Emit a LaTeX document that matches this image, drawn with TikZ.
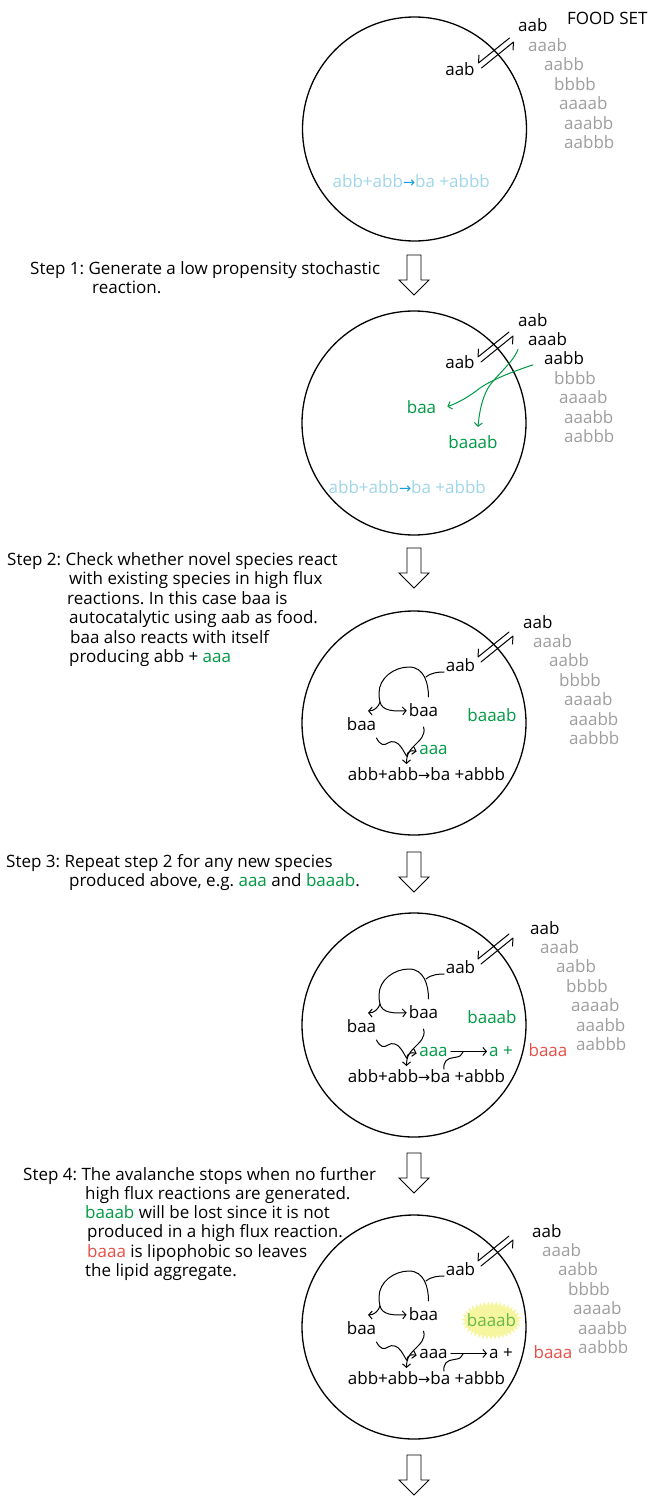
\documentclass[tikz,border=0pt]{standalone}
\usepackage{fontspec}
\setmainfont{Open Sans}
\newfontfamily\symfont{DejaVu Sans}
\usetikzlibrary{arrows.meta,decorations.pathmorphing,calc}
\frenchspacing

\definecolor{foodgray}{RGB}{158,158,158}
\definecolor{newgreen}{RGB}{0,153,68}
\definecolor{lostred}{RGB}{230,80,72}
\definecolor{paleblue}{RGB}{160,214,234}
\definecolor{rxnblue}{RGB}{25,160,220}
\definecolor{glowyellow}{RGB}{246,246,160}
\definecolor{fadegreen}{RGB}{105,185,70}

\tikzset{
  sp/.style={inner sep=0pt, anchor=base, font=\fontsize{17}{19.5}\selectfont},
  spw/.style={sp, anchor=base west},
  cell/.style={circle, draw, line width=1.3pt, minimum size=224pt, inner sep=0pt},
  wire/.style={line width=1pt, line cap=round, line join=round},
  link/.style={wire, -{Straight Barb[length=3.5pt,width=8pt,line width=1pt]}},
  bigarrow/.style={draw, line width=0.8pt, fill=white, line join=miter},
}

% reaction arrow glyph
\newcommand\rarrow{{\fontsize{14.5}{14.5}\symfont →}}

% food column: prefix, left x, first baseline, number of black entries
\newcommand\foodcolumn[4]{%
  \foreach \w/\dx [count=\i] in {aab/0,aaab/10,aabb/26,bbbb/36,aaaab/41,aaabb/46,aabbb/46}{%
    \ifnum\i>#4\relax\def\fc{foodgray}\else\def\fc{black}\fi
    \node[spw, text=\fc] (#1\i) at ({#2+\dx},{#3+19.4*(\i-1)}) {\w};
  }}

% exchange harpoons across the membrane (circle-relative)
\newcommand\membrane{%
  \draw[wire] (95,-91) -- (64,-66) -- (64.5,-74);
  \draw[wire] (67,-61) -- (99,-87) -- (98.5,-79);
}

% hollow down arrow between stages: top y
\newcommand\stepdown[1]{%
  \draw[bigarrow] (407,#1) -- (421,#1) -- (421,#1+25) -- (429,#1+25) -- (414,#1+40)
    -- (399,#1+25) -- (407,#1+25) -- cycle;
}

% autocatalytic network inside a cell (circle-relative): prefix, colour of aaa
\newcommand\network[2]{%
  \node[sp] (#1aab) at (46.5,-52) {aab};
  \node[sp] (#1baar) at (9.5,-7) {baa};
  \node[sp] (#1baal) at (-52.5,7) {baa};
  \node[sp, text=#2] (#1aaa) at (19.5,31) {aaa};
  \node[sp] (#1rxn) at (12.5,57) {abb+abb\rarrow ba +abbb};
  \coordinate (#1split) at (-34,-21);
  \coordinate (#1merge) at (-7.5,33);
  \coordinate (#1drop) at (-7.5,41);
  % aab + baa -> baa + baa
  \draw[wire] ($(#1aab.base west)+(-1.5,1)$) .. controls (26,-51) and (18,-51) .. (12,-46);
  \draw[wire] ($(#1baar.north)+(5,-6)$) .. controls (14.5,-40) and (10,-56) .. (-5,-56)
     .. controls (-20,-56) and (-35,-45) .. (-35,-30) .. controls (-35,-26) and (-34.5,-23) .. (#1split);
  \draw[link] (#1split) .. controls (-35.5,-16) and (-40,-12) .. ($(#1baal.north)+(6.5,-6)$);
  \draw[link] (#1split) .. controls (-32,-12) and (-20,-11.5) .. ($(#1baar.west)+(-2,1)$);
  % baa + baa -> abb + aaa
  \draw[link] ($(#1baar.base)+(0,11)$) .. controls (12,12) and (6,17) .. (0,23)
     .. controls (-6,29) and (-7.5,33) .. (#1drop);
  \draw[wire] ($(#1baal.base)+(15,8)$) .. controls (-34,22) and (-30,23) .. (-26,20)
     .. controls (-22,17) and (-16,19) .. (-13,24) .. controls (-10,28) and (-9,31) .. (#1merge);
  \draw[link] (#1merge) .. controls (-6,28) and (-3,27) .. ($(#1aaa.west)+(-2.5,2)$);
}

% aaa + ba -> a + baaa (circle-relative): prefix, colour of products
\newcommand\degrade[2]{%
  \node[sp, text=#2] (#1ap) at (87,31) {a +};
  \draw[link] ($(#1aaa.east)+(3,0)$) -- ($(#1ap.west |- #1aaa.east)+(-2,0)$);
  \coordinate (#1ba) at (30,44);
  \draw[wire] (#1ba) .. controls (29,37) and (33,33) .. (40,32.5) .. controls (46,32) and (48,30) .. (49,27);
}

\begin{document}
\begin{tikzpicture}[x=1pt,y=-1pt]
\useasboundingbox (0,0) rectangle (648,1496);
\fill[white] (0,0) rectangle (648,1496);

%% ---------- stage 0: the cell and its food set ----------
\node[spw] (foodlabel) at (567,25) {FOOD SET};
\begin{scope}[shift={(414.5,129)}]
  \node[cell] (cellA) at (0,0) {};
  \node[sp] (Aaab) at (45.5,-54) {aab};
  \node[spw] (Arxn) at (-82,58) {\textcolor{paleblue}{abb+abb}\textcolor{rxnblue}{\rarrow}\textcolor{paleblue}{ba +abbb}};
  \membrane
\end{scope}
\foodcolumn{fa}{518}{32}{1}

\stepdown{255}
\node[spw] (s1a) at (30,274) {Step 1: Generate a low propensity stochastic};
\node[spw] (s1b) at (92,293) {reaction.};

%% ---------- stage 1: a rare reaction ----------
\begin{scope}[shift={(414,423)}]
  \node[cell] (cellB) at (0,0) {};
  \node[sp] (Baab) at (46,-55) {aab};
  \node[spw] (Brxn) at (-85.5,70) {\textcolor{paleblue}{abb+abb}\textcolor{rxnblue}{\rarrow}\textcolor{paleblue}{ba +abbb}};
  \node[sp, text=newgreen] (Bbaa) at (7.5,-10) {baa};
  \node[sp, text=newgreen] (Bbaaab) at (59,25) {baaab};
  \membrane
\end{scope}
\foodcolumn{fb}{518}{326}{3}
\draw[link, newgreen] ($(fb2.base west)+(-10,4)$) .. controls (512,365) and (492,378) .. (486,392)
   .. controls (481,403) and (479,415) .. ($(Bbaaab.north)+(5,-8)$);
\draw[link, newgreen] ($(fb3.base west)+(-11,0)$) .. controls (515,371) and (495,378) .. (480,388)
   .. controls (470,396) and (458,403) .. ($(Bbaa.east)+(11,0)$);

\stepdown{548}
\node[spw] (s2a) at (7,565) {Step 2: Check whether novel species react};
\node[spw] (s2b) at (69,584) {with existing species in high flux};
\node[spw] (s2c) at (67,604) {reactions. In this case baa is};
\node[spw] (s2d) at (69,623) {autocatalytic using aab as food.};
\node[spw] (s2e) at (70,643) {baa also reacts with itself};
\node[spw] (s2f) at (69,662) {producing abb + \textcolor{newgreen}{aaa}};

%% ---------- stage 2: high flux reactions of the new species ----------
\begin{scope}[shift={(414,723)}]
  \node[cell] (cellC) at (0,0) {};
  \membrane
  \network{C}{newgreen}
  \node[sp, text=newgreen] (Cbaaab) at (78,-2) {baaab};
\end{scope}
\foodcolumn{fc}{523}{628}{1}

\stepdown{852}
\node[spw] (s3a) at (6,867) {Step 3: Repeat step 2 for any new species};
\node[spw] (s3b) at (69,886) {produced above, e.g. \textcolor{newgreen}{aaa} and \textcolor{newgreen}{baaab}.};

%% ---------- stage 3: the avalanche continues ----------
\begin{scope}[shift={(414,1025)}]
  \node[cell] (cellD) at (0,0) {};
  \membrane
  \network{D}{newgreen}
  \degrade{D}{newgreen}
  \node[sp, text=newgreen] (Dbaaab) at (78,-2) {baaab};
  \node[sp, text=lostred] (Dbaaa) at (134,31) {baaa};
\end{scope}
\foodcolumn{fd}{530}{934}{1}

\stepdown{1153}
\node[spw] (s4a) at (23,1180) {Step 4: The avalanche stops when no further};
\node[spw] (s4b) at (85,1199) {high flux reactions are generated.};
\node[spw] (s4c) at (85,1218) {\textcolor{newgreen}{baaab} will be lost since it is not};
\node[spw] (s4d) at (87,1237) {produced in a high flux reaction.};
\node[spw] (s4e) at (87,1257) {\textcolor{lostred}{baaa} is lipophobic so leaves};
\node[spw] (s4f) at (85,1276) {the lipid aggregate.};

%% ---------- stage 4: the avalanche stops ----------
\begin{scope}[shift={(414,1327)}]
  \node[cell] (cellE) at (0,0) {};
  \membrane
  \network{E}{black}
  \degrade{E}{black}
  \fill[glowyellow, decorate, decoration={zigzag, segment length=4pt, amplitude=2.2pt}]
     (77.5,-6.5) ellipse [x radius=28pt, y radius=17pt];
  \node[sp, text=fadegreen] (Ebaaab) at (77.5,-1) {baaab};
  \node[sp, text=lostred] (Ebaaa) at (139,31) {baaa};
\end{scope}
\foodcolumn{fe}{532}{1237}{1}

\stepdown{1455}
\end{tikzpicture}
\end{document}
